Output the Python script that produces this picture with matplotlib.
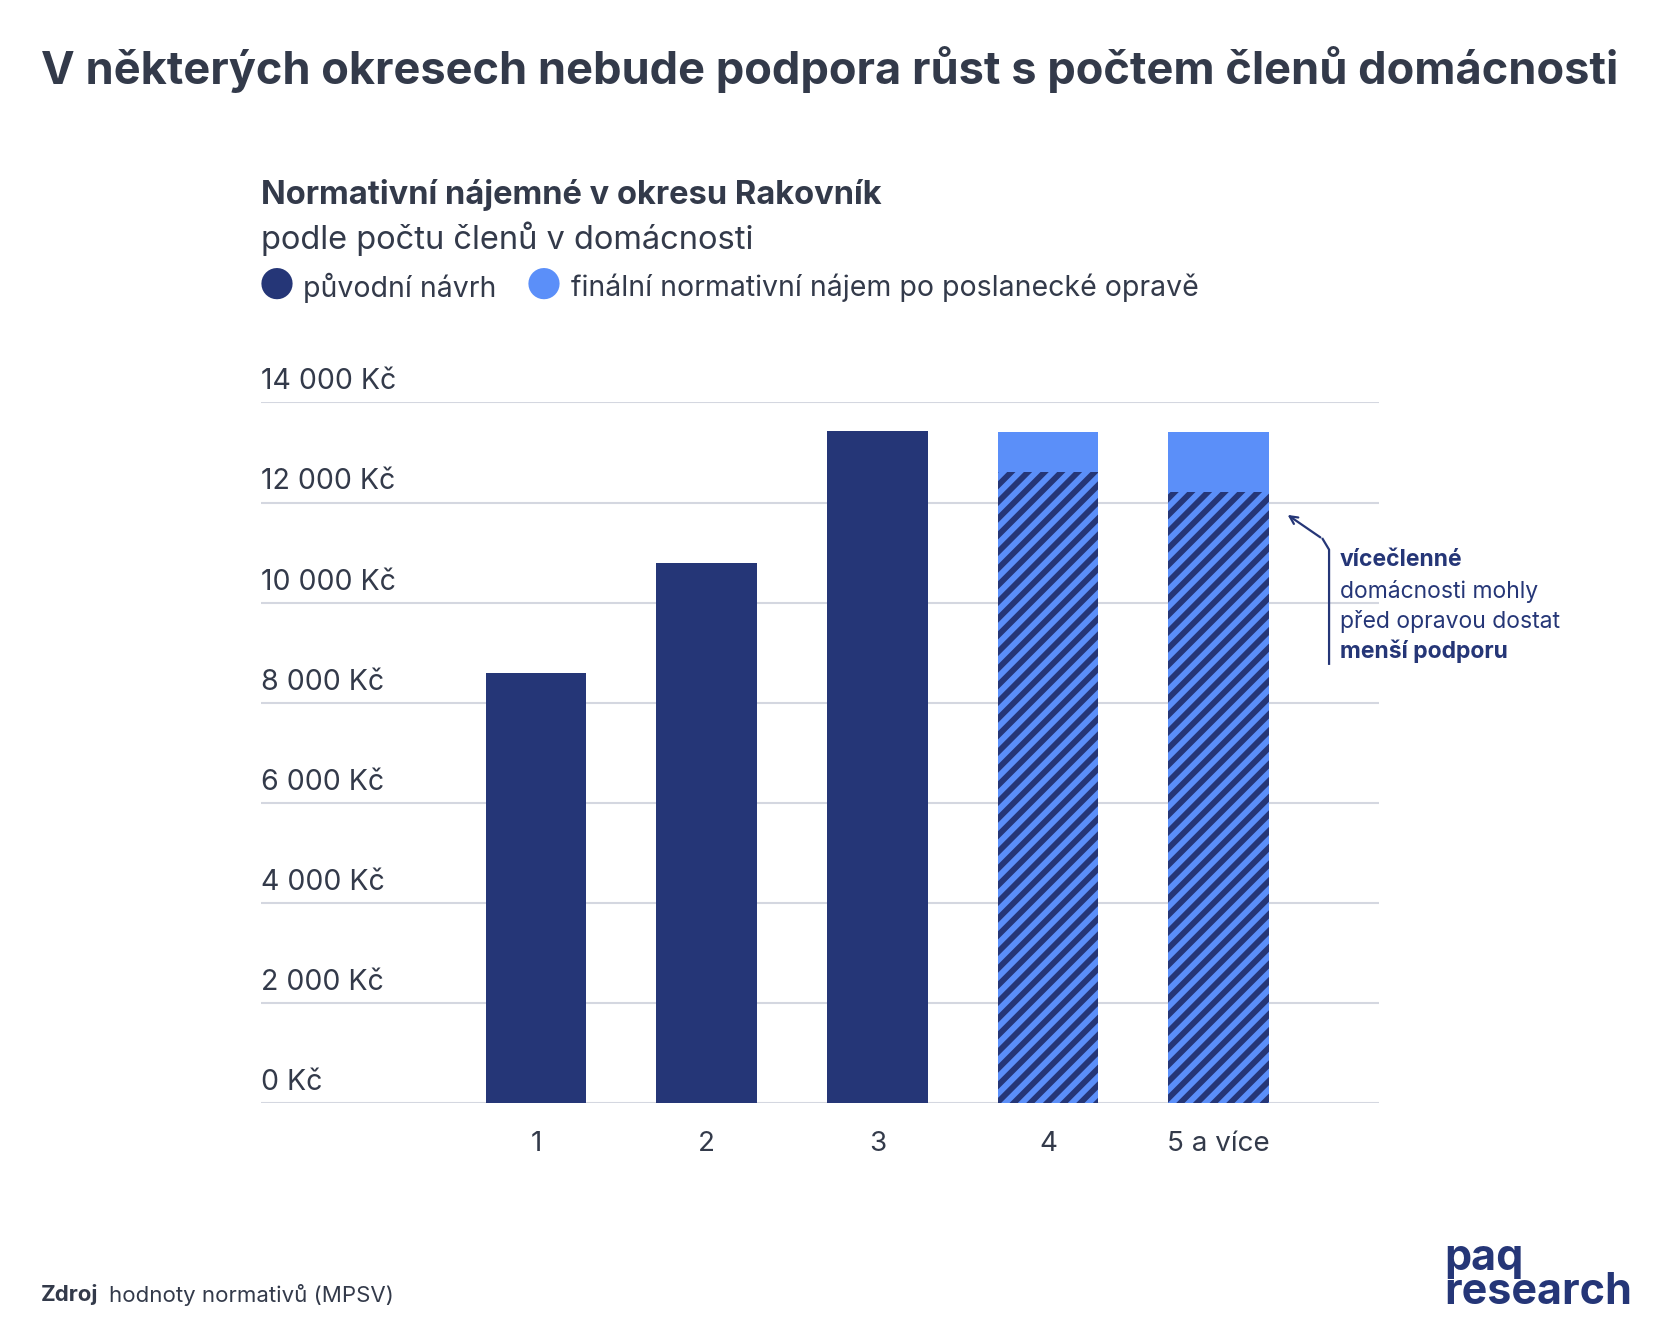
import matplotlib.pyplot as plt
import matplotlib as mpl

categories = ['1', '2', '3', '4', '5 a více']
puvodni = [8600, 10800, 13420, 12610, 12210]
finalni = [8600, 10800, 13420, 13400, 13400]
yticks = [0, 2000, 4000, 6000, 8000, 10000, 12000, 14000]
ytick_labels = ['0 Kč', '2 000 Kč', '4 000 Kč', '6 000 Kč', '8 000 Kč', '10 000 Kč', '12 000 Kč', '14 000 Kč']

NAVY = '#253677'
LIGHT = '#5b8ff9'
TEXT = '#333a4a'
GRID = '#d4d7e0'

plt.rcParams['font.family'] = ['Inter', 'DejaVu Sans']
mpl.rcParams['hatch.linewidth'] = 4.2
mpl.rcParams['hatch.color'] = NAVY

W, H = 1560, 1235
def fx(x): return x / W
def fy(y): return 1 - y / H

fig = plt.figure(figsize=(16.64, 13.18), dpi=100)
ax = fig.add_axes([fx(245), fy(1034), fx(1293) - fx(245), fy(377) - fy(1034)])

xs = list(range(len(categories)))
bw = 0.59
for i in xs:
    if i < 3:
        ax.bar(i, puvodni[i], width=bw, color=NAVY, linewidth=0, zorder=3)
    else:
        ax.bar(i, puvodni[i], width=bw, facecolor=LIGHT, edgecolor=NAVY, hatch='//', linewidth=0, zorder=3)
        ax.bar(i, finalni[i] - puvodni[i], bottom=puvodni[i], width=bw, color=LIGHT, linewidth=0, zorder=3)

ax.set_xlim(-1.61, 4.94)
ax.set_ylim(0, 14000)
for v, lab in zip(yticks, ytick_labels):
    ax.axhline(v, color=GRID, lw=1.5, zorder=1)
    ax.text(-1.61, v + 140, lab, fontsize=20.5, color=TEXT, va='bottom', ha='left')
ax.set_yticks([])
ax.set_xticks(xs)
ax.set_xticklabels(categories, fontsize=20, color=TEXT)
ax.tick_params(axis='x', length=0, pad=20)
for s in ax.spines.values():
    s.set_visible(False)

fig.text(fx(38), fy(65), 'V některých okresech nebude podpora růst s počtem členů domácnosti',
         fontsize=32.5, fontweight='bold', color=TEXT, va='center')
fig.text(fx(245), fy(183), 'Normativní nájemné v okresu Rakovník', fontsize=23.5, fontweight='bold', color=TEXT, va='center')
fig.text(fx(245), fy(224), 'podle počtu členů v domácnosti', fontsize=23.5, color=TEXT, va='center')
fig.text(fx(259), fy(270), '●', fontsize=30, color=NAVY, va='center', ha='center')
fig.text(fx(284), fy(270), 'původní návrh', fontsize=20.5, color=TEXT, va='center')
fig.text(fx(510), fy(270), '●', fontsize=30, color=LIGHT, va='center', ha='center')
fig.text(fx(535), fy(270), 'finální normativní nájem po poslanecké opravě', fontsize=20.5, color=TEXT, va='center')

# annotation
fig.add_artist(plt.Line2D([fx(1246), fx(1246), fx(1240)], [fy(622), fy(515), fy(505)], color=NAVY, lw=1.6))
fig.add_artist(mpl.patches.FancyArrowPatch((fx(1240), fy(505)), (fx(1205), fy(481)),
               transform=fig.transFigure, arrowstyle='->', mutation_scale=14, color=NAVY, lw=1.6))
fig.text(fx(1256), fy(525), 'vícečlenné', fontsize=16.5, fontweight='bold', color=NAVY, va='center')
fig.text(fx(1256), fy(554), 'domácnosti mohly', fontsize=16.5, color=NAVY, va='center')
fig.text(fx(1256), fy(582), 'před opravou dostat', fontsize=16.5, color=NAVY, va='center')
fig.text(fx(1256), fy(610), 'menší podporu', fontsize=16.5, fontweight='bold', color=NAVY, va='center')

fig.text(fx(38), fy(1213), 'Zdroj', fontsize=16, fontweight='bold', color=TEXT, va='center')
fig.text(fx(102), fy(1213), 'hodnoty normativů (MPSV)', fontsize=16, color=TEXT, va='center')
fig.text(fx(1530), fy(1195), 'paq\nresearch', fontsize=31, fontweight='bold', color=NAVY,
         va='center', ha='right', multialignment='left', linespacing=0.8)

fig.savefig('out.png', dpi=100, facecolor='white')
